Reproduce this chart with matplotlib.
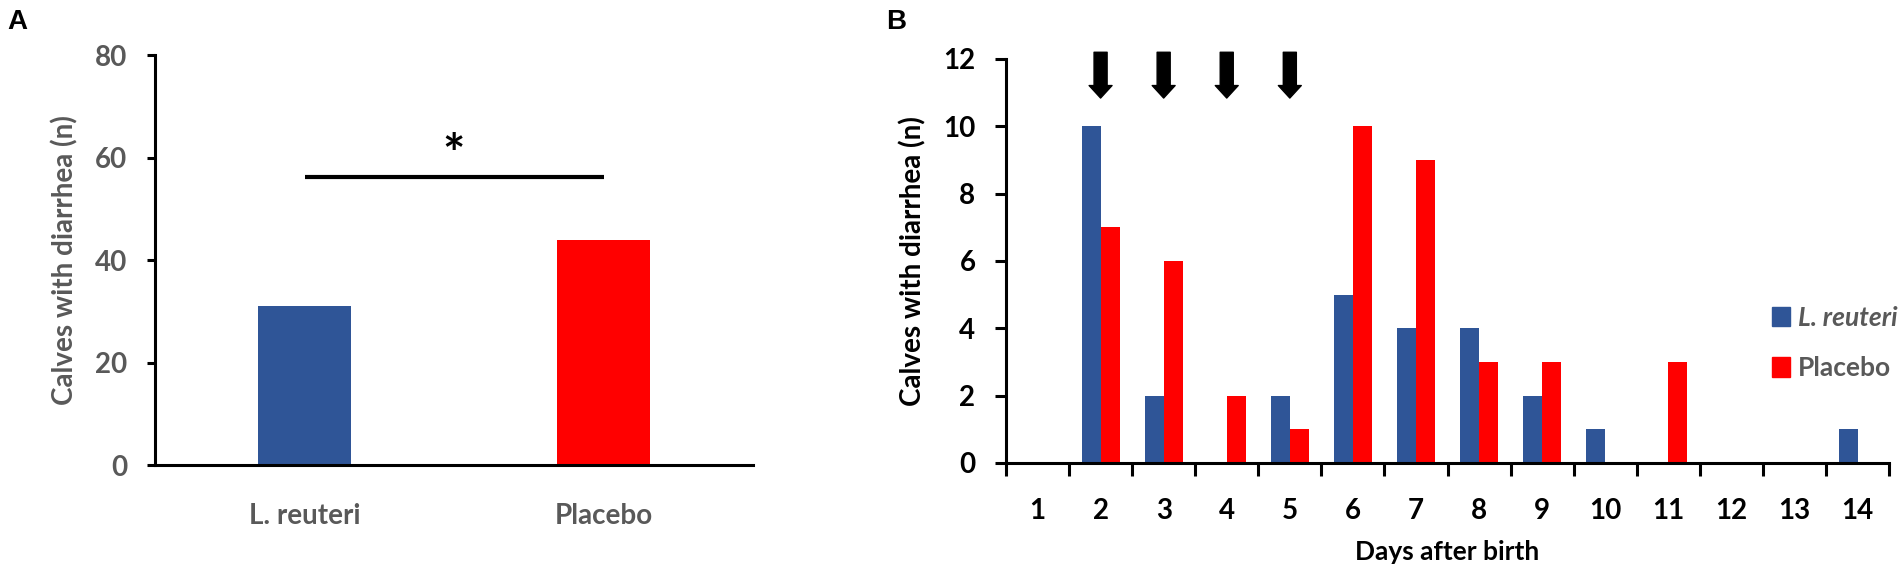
import matplotlib
matplotlib.use("Agg")
import matplotlib.pyplot as plt
from matplotlib.patches import Patch
from matplotlib.ticker import FixedLocator

plt.rcParams['font.family'] = ['Lato', 'DejaVu Sans']
plt.rcParams['font.weight'] = 'bold'
plt.rcParams['axes.labelweight'] = 'bold'

# Panel A: totals
groups = ["L. reuteri", "Placebo"]
totals = [31, 44]

# Panel B: cases per day
days = list(range(1, 15))
reuteri = [0, 10, 2, 0, 2, 5, 4, 4, 2, 1, 0, 0, 0, 1]
placebo = [0, 7, 6, 2, 1, 10, 9, 3, 3, 0, 3, 0, 0, 0]
arrow_days = [2, 3, 4, 5]

BLUE = "#2F5597"
RED = "#FF0000"
GREY = "#595959"

fig = plt.figure(figsize=(19.02, 5.75), dpi=100)

# ---------- panel A ----------
axA = fig.add_axes([0.0815, 0.1913, 0.3144, 0.713])
xa = [0.5, 1.5]
axA.bar(xa, totals, width=0.314, color=[BLUE, RED])
axA.set_xlim(0, 2)
axA.set_ylim(0, 80)
axA.set_yticks([0, 20, 40, 60, 80])
axA.set_xticks(xa)
axA.set_xticklabels(groups)
for s in ["top", "right"]:
    axA.spines[s].set_visible(False)
for s in ["left", "bottom"]:
    axA.spines[s].set_linewidth(2.2)
axA.tick_params(axis="y", direction="out", length=6, width=2.2, pad=14,
                labelsize=20, labelcolor=GREY)
axA.tick_params(axis="x", length=0, pad=27, labelsize=20, labelcolor=GREY)
axA.set_ylabel("Calves with diarrhea (n)", fontsize=20, color=GREY, labelpad=12)

# significance bar
axA.plot([xa[0], xa[1]], [56.2, 56.2], color="black", lw=3, solid_capstyle="butt")
axA.text(1.0, 60.0, "*", ha="center", va="center", fontsize=38)

fig.text(0.004, 0.985, "A", fontsize=20, fontweight="bold", va="top",
         family="Liberation Sans")

# ---------- panel B ----------
axB = fig.add_axes([0.5289, 0.1948, 0.4643, 0.7026])
bw = 0.3
axB.bar([d - bw / 2 for d in days], reuteri, width=bw, color=BLUE, label="L. reuteri")
axB.bar([d + bw / 2 for d in days], placebo, width=bw, color=RED, label="Placebo")
axB.set_xlim(0.5, 14.5)
axB.set_ylim(0, 12)
axB.set_yticks(range(0, 13, 2))
axB.set_xticks(days)
axB.xaxis.set_minor_locator(FixedLocator([d + 0.5 for d in range(0, 15)]))
for s in ["top", "right"]:
    axB.spines[s].set_visible(False)
for s in ["left", "bottom"]:
    axB.spines[s].set_linewidth(2.2)
axB.tick_params(axis="y", direction="out", length=8, width=2.2, pad=14,
                labelsize=20, labelcolor="black")
axB.tick_params(axis="x", which="major", length=0, pad=25, labelsize=20)
axB.tick_params(axis="x", which="minor", direction="out", length=9, width=2.2)
axB.set_ylabel("Calves with diarrhea (n)", fontsize=20, labelpad=12)
axB.set_xlabel("Days after birth", fontsize=19, labelpad=12)

for d in arrow_days:
    axB.annotate("", xy=(d, 10.84), xytext=(d, 12.2),
                 arrowprops=dict(arrowstyle="simple,head_width=1.65,head_length=0.9,tail_width=0.94",
                                 color="black", mutation_scale=10, shrinkA=0, shrinkB=0),
                 annotation_clip=False)

handles = [Patch(color=BLUE), Patch(color=RED)]
leg = axB.legend(handles, ["L. reuteri", "Placebo"], loc="upper left",
                 bbox_to_anchor=(0.855, 0.415), frameon=False, fontsize=19,
                 handlelength=0.7, handleheight=0.75, handletextpad=0.3,
                 labelspacing=1.0, borderaxespad=0)
for t in leg.get_texts():
    t.set_color(GREY)
leg.get_texts()[0].set_style("italic")

fig.text(0.466, 0.985, "B", fontsize=20, fontweight="bold", va="top",
         family="Liberation Sans")

fig.savefig("out.png", dpi=100)
